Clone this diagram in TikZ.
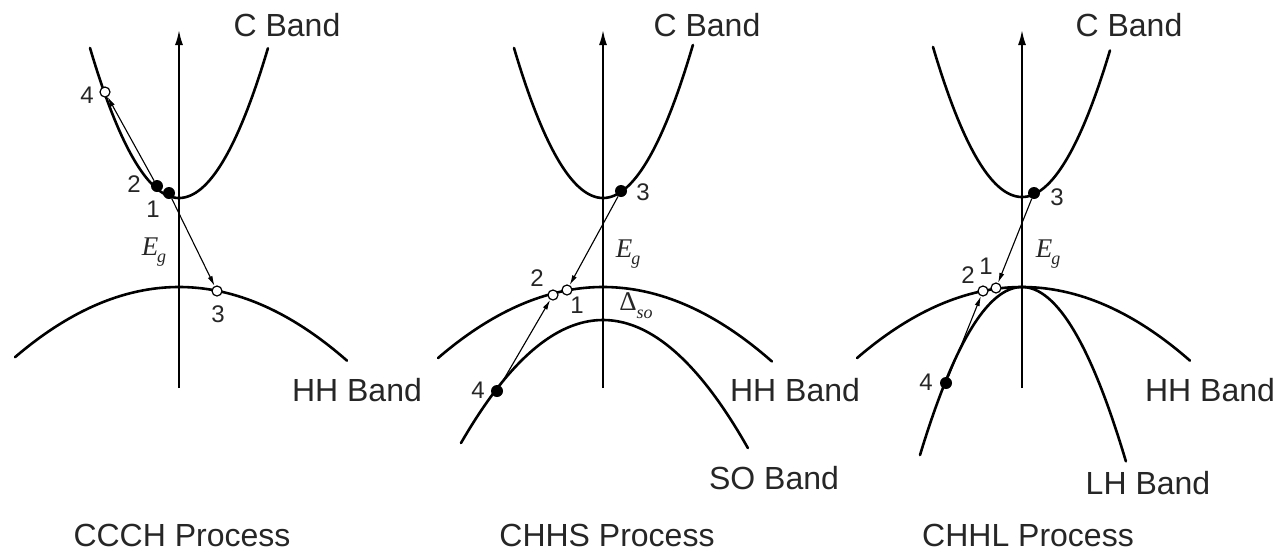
\documentclass[tikz,border=0pt]{standalone}
\usepackage{fontspec}
\setmainfont{Liberation Sans}
\newfontfamily\ser{Liberation Serif}
\usetikzlibrary{arrows.meta}
\tikzset{
  band/.style={line width=2.6pt, line cap=round},
  ax/.style={line width=1.8pt, -{Latex[length=15pt,width=8pt]}},
  tr/.style={line width=1.1pt, -{Latex[length=10pt,width=5pt]}},
  elec/.style={circle, fill=black, inner sep=0pt, minimum size=12pt},
  hole/.style={circle, draw=black, fill=white, line width=1.2pt, inner sep=0pt, minimum size=10pt},
  lbl/.style={font=\fontsize{32}{36}\selectfont, inner sep=0pt, text=black!85},
  num/.style={font=\fontsize{24}{28}\selectfont, inner sep=0pt, text=black!85},
  eg/.style={font=\fontsize{27}{30}\selectfont, inner sep=0pt, text=black!85}
}
\newcommand{\EgText}{{\ser\itshape E\kern-1pt\raisebox{-7pt}{\fontsize{18}{20}\selectfont g}}}
\begin{document}
\begin{tikzpicture}[x=1pt,y=-1pt]
\useasboundingbox (0,0) rectangle (1277,555);
% ---------- axes ----------
\coordinate (a1b) at (179,388); \coordinate (a1t) at (179,30);
\coordinate (a2b) at (603,388); \coordinate (a2t) at (603,30);
\coordinate (a3b) at (1022,388); \coordinate (a3t) at (1022,30);
\draw[ax] (a1b) -- (a1t);
\draw[ax] (a2b) -- (a2t);
\draw[ax] (a3b) -- (a3t);
% ---------- panel 1 bands (x in units of 100 px) ----------
\draw[band] plot[domain=-0.89:0.89, samples=80] ({179+100*\x}, {198-189.4*(\x)*(\x)});
\draw[band] plot[domain=-1.64:1.68, samples=80] ({179+100*\x}, {287+26.1*(\x)*(\x)});
% ---------- panel 2 bands ----------
\draw[band] plot[domain=-0.89:0.90, samples=80] ({603+100*\x}, {198-189.4*(\x)*(\x)});
\draw[band] plot[domain=-1.65:1.69, samples=80] ({603+100*\x}, {287+26.1*(\x)*(\x)});
\draw[band] plot[domain=-1.42:1.45, samples=80] ({603+100*\x}, {320+61*(\x)*(\x)});
% ---------- panel 3 bands ----------
\draw[band] plot[domain=-0.89:0.88, samples=80] ({1022+100*\x}, {197-189.4*(\x)*(\x)});
\draw[band] plot[domain=-1.65:1.68, samples=80] ({1022+100*\x}, {287+26.1*(\x)*(\x)});
\draw[band] plot[domain=-1.02:1.04, samples=80] ({1022+100*\x}, {287+161.5*(\x)*(\x)});
% ---------- panel 1 carriers ----------
\node[hole] (p4a) at (105,92) {};
\node[elec] (p2a) at (157,186) {};
\node[elec] (p1a) at (169,193) {};
\node[hole] (p3a) at (217,291) {};
\draw[tr] (p1a) -- (p3a);
\draw[tr] (p2a) -- (p4a);
\node[num] (n4a) at (87,95) {4};
\node[num] (n2a) at (134,184) {2};
\node[num] (n1a) at (153,209) {1};
\node[num] (n3a) at (218,314) {3};
\node[eg] (ega) at (154,252) {\EgText};
% ---------- panel 2 carriers ----------
\node[elec] (p3b) at (621,191) {};
\node[hole] (p1b) at (567,290) {};
\node[hole] (p2b) at (553,295) {};
\node[elec] (p4b) at (497,391) {};
\draw[tr] (p3b) -- (p1b);
\draw[tr] (p4b) -- (p2b);
\node[num] (n3b) at (643,192) {3};
\node[num] (n2b) at (537,278) {2};
\node[num] (n1b) at (577,305) {1};
\node[num] (n4b) at (478,390) {4};
\node[eg] (egb) at (628,254) {\EgText};
\node[eg] (dso) at (636,306) {{\ser Δ\raisebox{-8pt}{\fontsize{18}{20}\selectfont\itshape so}}};
% ---------- panel 3 carriers ----------
\node[elec] (p3c) at (1034,193) {};
\node[hole] (p1c) at (996,288) {};
\node[hole] (p2c) at (983,291) {};
\node[elec] (p4c) at (946,383) {};
\draw[tr] (p3c) -- (p1c);
\draw[tr] (p4c) -- (p2c);
\node[num] (n3c) at (1057,197) {3};
\node[num] (n2c) at (968,275) {2};
\node[num] (n1c) at (986,266) {1};
\node[num] (n4c) at (926,382) {4};
\node[eg] (egc) at (1048,254) {\EgText};
% ---------- band labels ----------
\node[lbl] (cb1) at (287,25) {C Band};
\node[lbl] (cb2) at (707,25) {C Band};
\node[lbl] (cb3) at (1129,25) {C Band};
\node[lbl] (hh1) at (357,390) {HH Band};
\node[lbl] (hh2) at (795,390) {HH Band};
\node[lbl] (hh3) at (1210,390) {HH Band};
\node[lbl] (so2) at (774,478) {SO Band};
\node[lbl] (lh3) at (1148,483) {LH Band};
% ---------- process labels ----------
\node[lbl, anchor=base] (pr1) at (182,546) {CCCH Process};
\node[lbl, anchor=base] (pr2) at (607,546) {CHHS Process};
\node[lbl, anchor=base] (pr3) at (1028,546) {CHHL Process};
\end{tikzpicture}
\end{document}
